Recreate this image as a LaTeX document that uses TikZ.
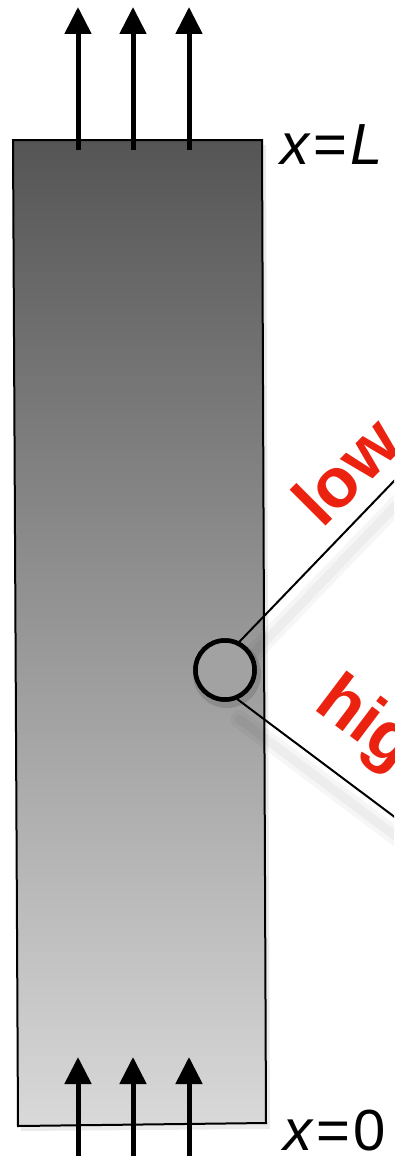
\documentclass[tikz,border=0pt]{standalone}
\usepackage{fontspec}
\newfontfamily\labelfont{Liberation Sans}
\usetikzlibrary{arrows.meta}
\definecolor{bartop}{HTML}{555555}
\definecolor{barbottom}{HTML}{D9D9D9}
\definecolor{probegray}{HTML}{A2A2A2}
\definecolor{hot}{HTML}{EC2210}
\tikzset{
  bar/.style={draw=black, line width=2pt, top color=bartop, bottom color=barbottom},
  barshadow/.style={fill=black, opacity=0.08},
  flux/.style={-{Triangle[length=27pt,width=26pt]}, line width=5pt, draw=black},
  probe/.style={circle, draw=black, line width=4.5pt, fill=probegray, minimum size=59pt, inner sep=0pt},
  lead/.style={draw=black, line width=2pt},
  leadshadow/.style={draw=black, opacity=0.035, line cap=round},
  endlabel/.style={font=\labelfont\fontsize{58}{60}\selectfont, anchor=base west, inner sep=0pt},
  rangelabel/.style={font=\labelfont\bfseries\fontsize{70}{72}\selectfont, text=hot, anchor=base west, inner sep=0pt}
}
\begin{document}
\begin{tikzpicture}[x=1pt,y=-1pt]
\useasboundingbox (0,0) rectangle (394,1156);
\clip (0,0) rectangle (394,1156);
% bar with its soft shadow
\fill[barshadow] (16,145) -- (266,145) -- (270,1129) -- (21,1131) -- cycle;
\path[bar] (13,140) -- (262,140) -- (266,1123) -- (18,1126) -- cycle;
% flux in and out
\coordinate (in1) at (78,1160); \coordinate (in1tip) at (78,1057);
\coordinate (in2) at (133,1160); \coordinate (in2tip) at (133,1057);
\coordinate (in3) at (189,1160); \coordinate (in3tip) at (189,1057);
\coordinate (out1) at (78,150); \coordinate (out1tip) at (78,7);
\coordinate (out2) at (133,150); \coordinate (out2tip) at (133,7);
\coordinate (out3) at (189,150); \coordinate (out3tip) at (189,7);
\draw[flux] (in1)--(in1tip); \draw[flux] (in2)--(in2tip); \draw[flux] (in3)--(in3tip);
\draw[flux] (out1)--(out1tip); \draw[flux] (out2)--(out2tip); \draw[flux] (out3)--(out3tip);
\node[endlabel] (xL) at (280,164) {\textit{x}\kern3pt=\kern3pt\textit{L}};
\node[endlabel] (x0) at (283,1150) {\textit{x}\kern3pt=\kern3pt0};
% probe and its two leads
\node[probe] (probe) at (225,670) {};
\coordinate (lowend) at (420,454);
\coordinate (highend) at (420,836);
\draw[leadshadow, line width=18pt] ([shift={(6,20)}]probe.63) -- ([shift={(6,20)}]lowend);
\draw[leadshadow, line width=9pt] ([shift={(6,20)}]probe.63) -- ([shift={(6,20)}]lowend);
\draw[leadshadow, line width=18pt] ([shift={(2,20)}]probe.-67) -- ([shift={(2,20)}]highend);
\draw[leadshadow, line width=9pt] ([shift={(2,20)}]probe.-67) -- ([shift={(2,20)}]highend);
\draw[lead] (probe.63) -- (lowend);
\draw[lead] (probe.-67) -- (highend);
\fill[black, opacity=0.12] (227,674) circle (34pt);
\node[probe] at (probe) {};
\node[rangelabel, rotate=45] (lowlbl) at (322,530) {low};
\node[rangelabel, rotate=-37] (highlbl) at (312,708) {high};
\end{tikzpicture}
\end{document}
